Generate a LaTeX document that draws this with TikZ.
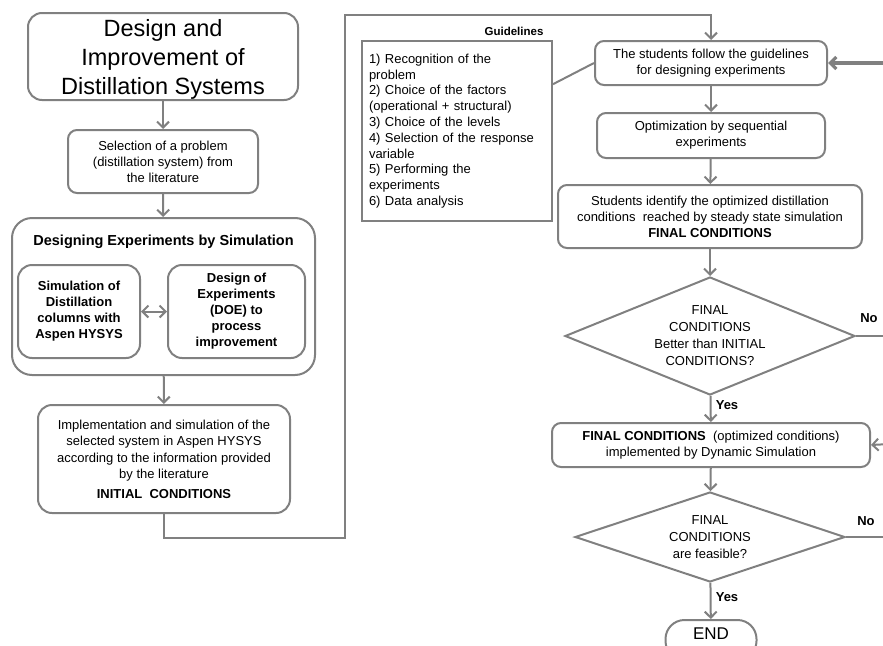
\documentclass[tikz,border=0pt]{standalone}
\usepackage{fontspec}
\setmainfont{Liberation Sans}
\usetikzlibrary{shapes.geometric,arrows.meta}
\definecolor{flowgray}{RGB}{128,128,128}

\begin{document}
\begin{tikzpicture}[x=1pt,y=-1pt,
    box/.style={draw=flowgray, line width=2pt, rounded corners=9pt, align=center,
      inner sep=0pt, font=\fontsize{13}{16}\selectfont},
    decision/.style={draw=flowgray, line width=2pt, diamond, align=center,
      inner sep=0pt, font=\fontsize{13}{17}\selectfont},
    flow/.style={draw=flowgray, line width=2pt, -{Straight Barb[length=6pt,width=12pt]}},
    link/.style={draw=flowgray, line width=2pt},
    tag/.style={font=\bfseries\fontsize{13}{16}\selectfont}]
    \useasboundingbox (0,0) rectangle (883,645);
    \clip (0,0) rectangle (883,645);

    % left column
    \node[box, minimum width=270pt, minimum height=87pt, rounded corners=14pt,
      text height=81pt, text depth=5pt,
      font=\fontsize{23.5}{29}\selectfont] (title) at (163,56.5)
      {Design and\\Improvement of\\Distillation Systems};
    \node[box, minimum width=190pt, minimum height=63pt] (select) at (163,161.5)
      {Selection of a problem\\(distillation system) from\\the literature};
    \node[box, minimum width=303pt, minimum height=157pt, rounded corners=20pt] (design) at (163.5,296.5) {};
    \node[font=\bfseries\fontsize{14.5}{17}\selectfont] (designtitle) at (163.5,242)
      {Designing Experiments by Simulation};
    \node[box, minimum width=122pt, minimum height=93pt, rounded corners=14pt,
      font=\bfseries\fontsize{13}{16}\selectfont] (simbox) at (79,311.5)
      {Simulation of\\Distillation\\columns with\\Aspen HYSYS};
    \node[box, minimum width=137pt, minimum height=93pt, rounded corners=14pt,
      font=\bfseries\fontsize{13}{16}\selectfont] (doebox) at (236.5,311.5)
      {Design of\\Experiments\\(DOE) to\\process\\improvement};
    \node[box, minimum width=252pt, minimum height=108pt, rounded corners=14pt,
      font=\fontsize{13}{16.5}\selectfont] (impl) at (164,459)
      {Implementation and simulation of the\\selected system in Aspen HYSYS\\according to the information provided\\by the literature\\[3pt]{\bfseries INITIAL\ \ CONDITIONS}};

    % guidelines
    \node[font=\bfseries\fontsize{11.5}{14}\selectfont] (guidetitle) at (514,31) {Guidelines};
    \node[draw=flowgray, line width=2pt, minimum width=190pt, minimum height=180pt,
      text width=176pt, align=left, inner sep=0pt, font=\fontsize{13}{15.8}\selectfont] (guide) at (457,131)
      {1) Recognition of the\\problem\\2) Choice of the factors\\(operational + structural)\\3) Choice of the levels\\4) Selection of the response\\variable\\5) Performing the\\experiments\\6) Data analysis};

    % right column
    \node[box, minimum width=232pt, minimum height=44pt] (follow) at (711,63)
      {The students follow the guidelines\\for designing experiments};
    \node[box, minimum width=228pt, minimum height=45pt] (optim) at (711,135.5)
      {Optimization by sequential\\experiments};
    \node[box, minimum width=304pt, minimum height=63pt] (ident) at (710,216.5)
      {Students identify the optimized distillation\\conditions\ \ reached by steady state simulation\\{\bfseries FINAL CONDITIONS}};
    \node[decision, aspect=2.46, minimum width=290pt, minimum height=118pt] (better) at (710,336)
      {FINAL\\CONDITIONS\\Better than INITIAL\\CONDITIONS?};
    \node[box, minimum width=318pt, minimum height=44pt] (final) at (711,445)
      {{\bfseries FINAL CONDITIONS}\ \ (optimized conditions)\\implemented by Dynamic Simulation};
    \node[decision, aspect=3, minimum width=270pt, minimum height=90pt] (feasible) at (710,537)
      {FINAL\\CONDITIONS\\are feasible?};
    \node[box, minimum width=91pt, minimum height=40pt, rounded corners=19pt,
      text height=12pt, text depth=14pt,
      font=\fontsize{17}{20}\selectfont] (endnode) at (711,640) {END};

    % free ends
    \coordinate (loopA) at (345,538);
    \coordinate (loopB) at (345,15);
    \coordinate (backA) at (890,63);
    \coordinate (backB) at (890,444);
    \coordinate (noA) at (890,336);
    \coordinate (noB) at (890,537);

    % connectors
    \draw[flow] (title) -- (select);
    \draw[flow] (select) -- (design);
    \draw[flow, {Straight Barb[length=6pt,width=12pt]}-{Straight Barb[length=6pt,width=12pt]}] (simbox) -- (doebox);
    \draw[flow] (design) -- (impl);
    \draw[flow] (impl.south) |- (loopA) -- (loopB) -| (follow.north);
    \draw[link] (guide.26) -- (follow.west);
    \draw[flow, line width=3.2pt] (backA) -- (follow.east);
    \draw[flow] (follow) -- (optim);
    \draw[flow] (optim) -- (ident);
    \draw[flow] (ident) -- (better);
    \draw[flow] (better) -- (final);
    \draw[link] (better.east) -- (noA);
    \draw[flow] (backB) -- (final.east);
    \draw[flow] (final) -- (feasible);
    \draw[link] (feasible.east) -- (noB);
    \draw[flow] (feasible) -- (endnode);

    % labels
    \node[tag] (noBetter) at (869,318) {No};
    \node[tag] (yesBetter) at (727,405) {Yes};
    \node[tag] (noFeasible) at (866,521) {No};
    \node[tag] (yesFeasible) at (727,597) {Yes};
\end{tikzpicture}
\end{document}
